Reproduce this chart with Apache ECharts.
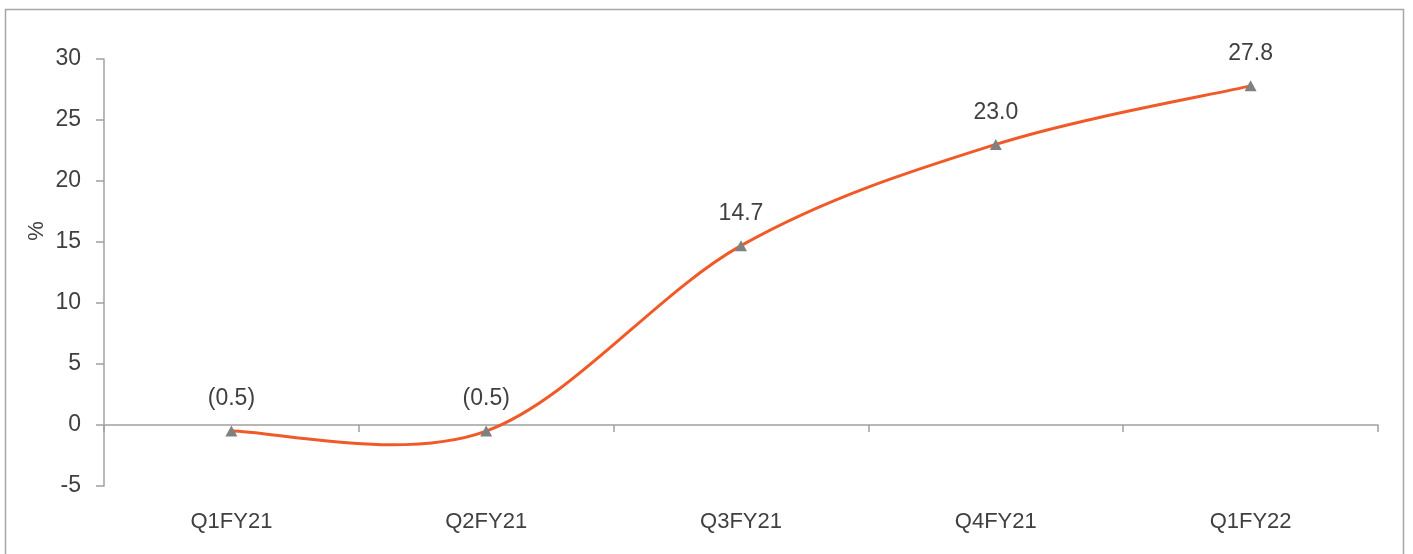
<!DOCTYPE html>
<html>
<head>
<meta charset="utf-8">
<script src="https://cdn.jsdelivr.net/npm/echarts@6/dist/echarts.min.js"></script>
<style>
  html, body { margin: 0; padding: 0; background: #ffffff; }
  #chart { width: 1413px; height: 554px; }
</style>
</head>
<body>
<div id="chart"></div>
<script>
// Quarterly growth (yoy), %
const quarters = ['Q1FY21', 'Q2FY21', 'Q3FY21', 'Q4FY21', 'Q1FY22'];
const growth = [-0.5, -0.5, 14.7, 23.0, 27.8];
const yTicks = { min: -5, max: 30, step: 5 };

const FONT = '"Liberation Sans", Arial, sans-serif';
const TEXT = '#404040';
const AXIS = '#a0a0a0';
const LINE = '#f05a28';

const chart = echarts.init(document.getElementById('chart'), null, { renderer: 'canvas' });

// Negative values are written in accounting style: (0.5)
function fmt(v) {
  return v < 0 ? '(' + Math.abs(v).toFixed(1) + ')' : v.toFixed(1);
}

const points = growth.map((v, i) => [i, v]);

// Spreadsheet-style smoothed curve: cubic Bezier segments with
// Catmull-Rom control points (tension 1/6), so the curve may overshoot
// between equal neighbours exactly like the classic "smoothed line".
function renderSmoothSegment(params, api) {
  const i = params.dataIndex;
  const n = growth.length;
  if (i >= n - 1) return { type: 'group', children: [] };
  const at = j => {
    const k = Math.max(0, Math.min(n - 1, j));
    return api.coord([k, growth[k]]);
  };
  const p0 = at(i - 1), p1 = at(i), p2 = at(i + 1), p3 = at(i + 2);
  return {
    type: 'bezierCurve',
    shape: {
      x1: p1[0], y1: p1[1],
      cpx1: p1[0] + (p2[0] - p0[0]) / 6,
      cpy1: p1[1] + (p2[1] - p0[1]) / 6,
      cpx2: p2[0] - (p3[0] - p1[0]) / 6,
      cpy2: p2[1] - (p3[1] - p1[1]) / 6,
      x2: p2[0], y2: p2[1]
    },
    style: { fill: 'none', stroke: LINE, lineWidth: 3, lineCap: 'round' }
  };
}

chart.setOption({
  animation: false,
  backgroundColor: '#ffffff',
  textStyle: { fontFamily: FONT },
  grid: { left: 104, right: 35, top: 59, bottom: 68, containLabel: false, outerBoundsMode: 'none' },
  graphic: [
    {
      type: 'rect',
      shape: { x: 5.5, y: 9.5, width: 1398, height: 580 },
      style: { fill: 'none', stroke: '#a6a6a6', lineWidth: 1.5 },
      silent: true
    },
    {
      type: 'text',
      x: 37, y: 231,
      rotation: Math.PI / 2,
      style: {
        text: '%', fill: TEXT, font: '22px ' + FONT,
        align: 'center', verticalAlign: 'middle'
      }
    }
  ],
  xAxis: {
    type: 'category',
    data: quarters,
    boundaryGap: true,
    axisLine: { onZero: true, lineStyle: { color: AXIS, width: 1.5 } },
    axisTick: { show: true, interval: 0, length: 7, inside: false, lineStyle: { color: AXIS, width: 1.5 } },
    // labels sit below the plot's bottom edge, not on the zero line
    axisLabel: { margin: 25, color: TEXT, fontSize: 22, fontFamily: FONT },
    splitLine: { show: false }
  },
  yAxis: {
    type: 'value',
    min: yTicks.min,
    max: yTicks.max,
    interval: yTicks.step,
    axisLine: { show: true, lineStyle: { color: AXIS, width: 1.5 } },
    axisTick: { show: true, length: 8, lineStyle: { color: AXIS, width: 1.5 } },
    axisLabel: { margin: 23, color: TEXT, fontSize: 23, fontFamily: FONT },
    splitLine: { show: false }
  },
  series: [
    {
      type: 'custom',
      coordinateSystem: 'cartesian2d',
      data: points,
      encode: { x: 0, y: 1 },
      renderItem: renderSmoothSegment,
      silent: true,
      z: 2
    },
    {
      type: 'scatter',
      data: points,
      symbol: 'triangle',
      symbolSize: [12, 11],
      itemStyle: { color: '#808080', opacity: 1 },
      label: {
        show: true,
        position: 'top',
        distance: 15,
        color: TEXT,
        fontSize: 23,
        fontFamily: FONT,
        formatter: p => fmt(p.value[1])
      },
      z: 3
    }
  ]
});
</script>
</body>
</html>
